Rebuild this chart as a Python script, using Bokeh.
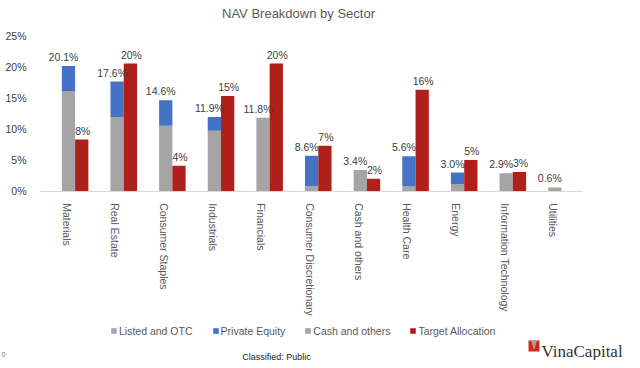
import math
from bokeh.plotting import figure
from bokeh.models import (ColumnDataSource, Range1d, FixedTicker, PrintfTickFormatter, LinearAxis,
                          Legend, LegendItem, Label, BoxAnnotation, PolyAnnotation, LabelSet)
from bokeh.transform import dodge
from bokeh.embed import file_html
from bokeh.resources import INLINE
from bokeh.core.properties import value

# ---------------- data ----------------
sectors = ["Materials", "Real Estate", "Consumer Staples", "Industrials", "Financials",
           "Consumer Discretionary", "Cash and others", "Health Care", "Energy",
           "Information Technology", "Utilities"]
listed_otc = [16.0, 11.9, 10.5, 9.7, 11.8, 0.8, 0.0, 0.8, 1.1, 2.9, 0.6]
private_equity = [4.1, 5.7, 4.1, 2.2, 0.0, 4.9, 0.0, 4.8, 1.9, 0.0, 0.0]
cash_others = [0.0, 0.0, 0.0, 0.0, 0.0, 0.0, 3.4, 0.0, 0.0, 0.0, 0.0]
target_alloc = [8.3, 20.5, 4.1, 15.3, 20.5, 7.3, 2.0, 16.3, 5.0, 3.1, 0.0]
nav_total = [20.1, 17.6, 14.6, 11.9, 11.8, 8.6, 3.4, 5.6, 3.0, 2.9, 0.6]
y_ticks = [0, 5, 10, 15, 20, 25]
series_names = ["Listed and OTC", "Private Equity", "Cash and others", "Target Allocation"]

GRAY = "#A5A5A5"
BLUE = "#4472C4"
RED = "#B0201B"
TXT = "#595959"
FONT = "Liberation Sans"

# ---------------- canvas geometry (pixels) ----------------
W, H = 632, 360
PLOT_L, PLOT_R = 42, 577          # left/right edge of the category band
PLOT_T, PLOT_B = 35, 190.7        # y of 25% and 0%
Y_MAX = 25
n = len(sectors)
cw = (PLOT_R - PLOT_L) / n                       # px per category
ppu = (PLOT_B - PLOT_T) / Y_MAX                  # px per percent
x_rng = Range1d(-PLOT_L / cw, (W - PLOT_L) / cw)
y_rng = Range1d(-(H - PLOT_B) / ppu, Y_MAX + PLOT_T / ppu)

centers = [i + 0.5 for i in range(n)]
stack_top = [a + b + c for a, b, c in zip(listed_otc, private_equity, cash_others)]
src = ColumnDataSource(dict(
    xc=centers, listed=listed_otc, pe=private_equity, cash=cash_others,
    target=target_alloc, top=stack_top,
    nav_lbl=["%.1f%%" % v for v in nav_total],
    tgt_lbl=[("%d%%" % round(v)) if v > 0 else "" for v in target_alloc],
))

p = figure(width=W, height=H, x_range=x_rng, y_range=y_rng, x_axis_location=None,
           y_axis_location=None, title=None, output_backend="svg", toolbar_location=None,
           min_border=0)
p.outline_line_color = None
p.background_fill_color = "white"
p.border_fill_color = "white"
p.xgrid.visible = False
p.ygrid.visible = False

BW = 0.273
DX_STACK = 0.034
DX_RED = 0.307

r_stack = p.vbar_stack(["listed", "pe", "cash"], x=dodge("xc", DX_STACK), width=BW,
                       color=[GRAY, BLUE, GRAY], line_color=None, source=src)
r_red = p.vbar(x=dodge("xc", DX_RED), top="target", width=BW, color=RED, line_color=None, source=src)

p.add_layout(LabelSet(x=dodge("xc", DX_STACK), y="top", text="nav_lbl", source=src,
                      text_align="center", text_baseline="bottom", x_offset=-5, y_offset=3,
                      text_font=value(FONT), text_font_size="10.5px", text_color="#404040"))
p.add_layout(LabelSet(x=dodge("xc", DX_RED), y="target", text="tgt_lbl", source=src,
                      text_align="center", text_baseline="bottom", x_offset=1, y_offset=3,
                      text_font=value(FONT), text_font_size="10.5px", text_color="#404040"))

# axes drawn at fixed positions inside the canvas
yaxis = LinearAxis(fixed_location=0, ticker=FixedTicker(ticks=y_ticks),
                   formatter=PrintfTickFormatter(format="%d%%"), bounds=(0, Y_MAX),
                   axis_line_color=None, major_tick_line_color=None, minor_tick_line_color=None,
                   major_label_standoff=10, major_label_text_font=FONT,
                   major_label_text_font_size="10.5px", major_label_text_color="#404040")
p.add_layout(yaxis, "left")

xaxis = LinearAxis(fixed_location=0, ticker=FixedTicker(ticks=centers),
                   major_label_overrides={c: s for c, s in zip(centers, sectors)},
                   bounds=(-0.05, n + 0.1), axis_line_color="#D9D9D9", major_tick_line_color=None,
                   minor_tick_line_color=None, major_label_orientation=-math.pi / 2,
                   major_label_standoff=6, major_label_text_font=FONT,
                   major_label_text_font_size="10.5px", major_label_text_color=TXT)
p.add_layout(xaxis, "below")

# legend (screen units from the canvas bottom-left)
legend = Legend(items=[
    LegendItem(label=series_names[0], renderers=[r_stack[0]]),
    LegendItem(label=series_names[1], renderers=[r_stack[1]]),
    LegendItem(label=series_names[2], renderers=[r_stack[2]]),
    LegendItem(label=series_names[3], renderers=[r_red]),
], orientation="horizontal", location=(110, 23.5), padding=0, margin=0, spacing=19,
    glyph_width=7, glyph_height=7, label_standoff=2, border_line_color=None,
    background_fill_alpha=0, label_text_font=FONT, label_text_font_size="10.5px",
    label_text_color=TXT)
p.add_layout(legend)

# title and footer
p.add_layout(Label(x=298, y=H - 13, x_units="screen", y_units="screen", text="NAV Breakdown by Sector",
                   text_align="center", text_baseline="middle", text_font=FONT,
                   text_font_size="13px", text_color=TXT))
p.add_layout(Label(x=276, y=9, x_units="screen", y_units="screen", text="Classified: Public",
                   text_align="center", text_baseline="top", text_font=FONT,
                   text_font_size="9px", text_color="#222222"))
p.add_layout(Label(x=1, y=6, x_units="screen", y_units="screen", text="0", text_align="left",
                   text_baseline="middle", text_font=FONT, text_font_size="7px", text_color="#777777"))
p.add_layout(Label(x=541, y=9, x_units="screen", y_units="screen", text="VinaCapital",
                   text_align="left", text_baseline="alphabetic", text_font="Liberation Serif",
                   text_font_size="17px", text_color="#333333"))
p.add_layout(BoxAnnotation(left=528, right=539, bottom=9, top=20, left_units="screen",
                           right_units="screen", bottom_units="screen", top_units="screen",
                           fill_color="#D7261E", fill_alpha=1, line_color=None))
p.add_layout(PolyAnnotation(xs=[530.5, 536.5, 533.5], ys=[20, 20, 10], xs_units="screen",
                            ys_units="screen", fill_color="#A0A0A0", fill_alpha=1, line_color=None))

open("out.html", "w").write(file_html(p, INLINE))
